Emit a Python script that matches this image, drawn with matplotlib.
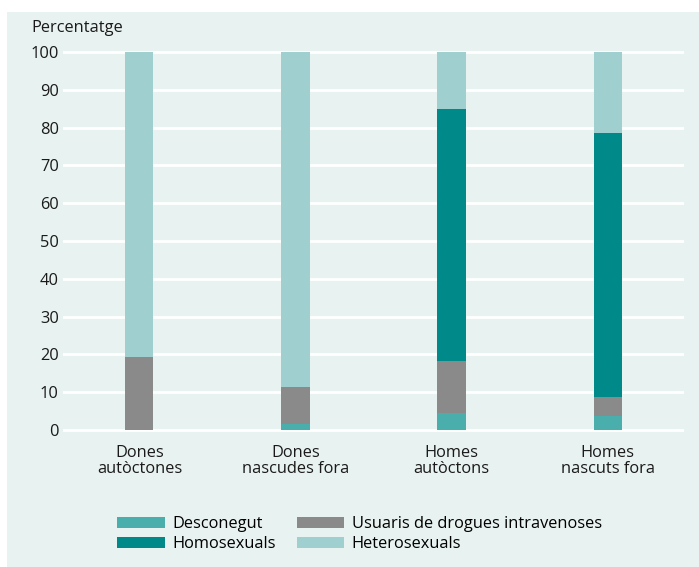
import numpy as np
import matplotlib.pyplot as plt
from matplotlib.patches import Rectangle, Patch

plt.rcParams['font.family'] = ['Open Sans', 'DejaVu Sans']

# dades
categories = ['Dones\nautòctones', 'Dones\nnascudes fora', 'Homes\nautòctons', 'Homes\nnascuts fora']
desconegut = [0.0, 1.6, 4.5, 3.7]
udvp = [19.4, 9.8, 13.8, 5.0]
homosexuals = [0.0, 0.0, 66.7, 69.9]
heterosexuals = [80.6, 88.6, 15.0, 21.4]

series = [('Desconegut', desconegut, '#4aafac'),
          ('Usuaris de drogues intravenoses', udvp, '#8a8a8a'),
          ('Homosexuals', homosexuals, '#008989'),
          ('Heterosexuals', heterosexuals, '#9fcfcf')]

W, H = 699, 567
FS = 11.8
fig = plt.figure(figsize=(W / 100, H / 100), dpi=100)
fig.patch.set_facecolor('white')
fig.patches.append(Rectangle((7 / W, 0), 1, (H - 12) / H, transform=fig.transFigure,
                             facecolor='#e8f2f0', edgecolor='none', zorder=-10))

px = 3.78
ax = fig.add_axes([63 / W, (H - 430 - px) / H, (684 - 63) / W, (378 + 2 * px) / H])
ax.set_facecolor('none')

x = np.arange(len(categories))
bottom = np.zeros(len(categories))
for name, vals, col in series:
    ax.bar(x, vals, width=0.18, bottom=bottom, color=col, label=name, zorder=3)
    bottom += np.array(vals)

ax.set_xlim(-0.49, 3.49)
ax.set_ylim(-1, 101)
ax.set_yticks(range(0, 101, 10))
ax.grid(axis='y', color='white', linewidth=2, zorder=1)
for s in ax.spines.values():
    s.set_visible(False)
ax.tick_params(axis='both', length=0, labelsize=FS, colors='#1a1a1a')
ax.tick_params(axis='y', pad=3)
ax.set_xticks(x)
ax.set_xticklabels(categories, fontsize=FS, linespacing=1.0)
ax.tick_params(axis='x', pad=8)

fig.text(31 / W, 1 - 28 / H, 'Percentatge', fontsize=FS, va='center', ha='left', color='#1a1a1a')

cols = {n: c for n, v, c in series}
order = ['Desconegut', 'Homosexuals', 'Usuaris de drogues intravenoses', 'Heterosexuals']
handles = [Patch(facecolor=cols[n], edgecolor='none') for n in order]
fig.legend(handles, order, loc='upper left', bbox_to_anchor=(109 / W, 1 - 508 / H), ncol=2,
           frameon=False, fontsize=FS, handlelength=2.9, handleheight=0.7,
           handletextpad=0.45, columnspacing=1.3, labelspacing=0.25, borderpad=0)

fig.savefig('out.png', dpi=100)
